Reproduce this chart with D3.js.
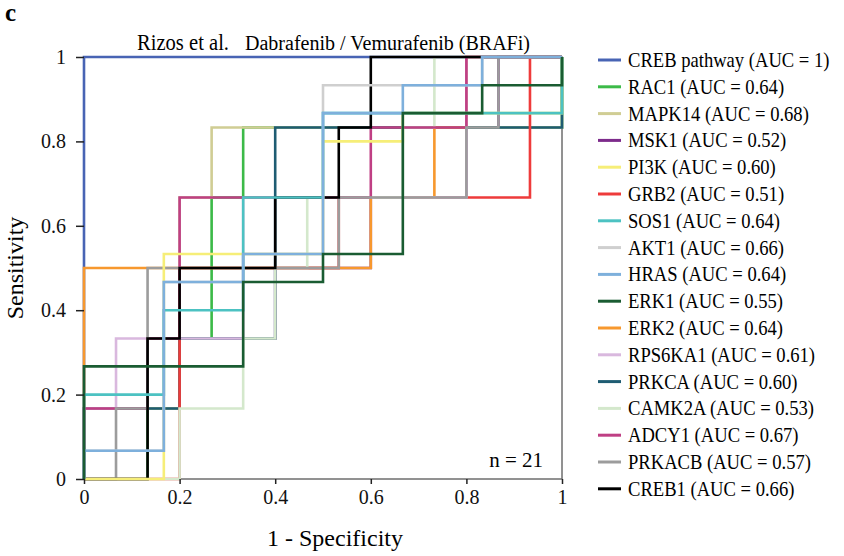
<!DOCTYPE html>
<html>
<head>
<meta charset="utf-8">
<script src="https://cdn.jsdelivr.net/npm/d3@7/dist/d3.min.js"></script>
<style>
    html, body { margin: 0; padding: 0; background: #fff; }
    svg { display: block; font-family: "Liberation Serif", "Times New Roman", serif; }
</style>
</head>
<body>
<div id="chart"></div>
<script>
    // legend order
    var seriesNames = ["CREB pathway", "RAC1", "MAPK14", "MSK1", "PI3K", "GRB2", "SOS1", "AKT1",
        "HRAS", "ERK1", "ERK2", "RPS6KA1", "PRKCA", "CAMK2A", "ADCY1", "PRKACB", "CREB1"];
    var seriesAuc = ["1", "0.64", "0.68", "0.52", "0.60", "0.51", "0.64", "0.66",
        "0.64", "0.55", "0.64", "0.61", "0.60", "0.53", "0.67", "0.57", "0.66"];
    var seriesColors = ["#4864b4", "#3cba48", "#d0cd94", "#7d2b8b", "#f6ee78", "#ee3b3b", "#4cc2c2", "#cfcfcf",
        "#7eb0dc", "#1a5c32", "#f7982e", "#d9b8de", "#1e5c72", "#d4e8cc", "#bf3f84", "#9c9c9c", "#000000"];

    // ROC vertices [1 - specificity, sensitivity]
    var rocCrebPathway = [[0, 0], [0, 1], [1, 1]];
    var rocRac1 = [[0, 0], [0.133, 0], [0.133, 0.167], [0.2, 0.167], [0.2, 0.333], [0.267, 0.333], [0.267, 0.667],
        [0.333, 0.667], [0.333, 0.833], [1, 0.833], [1, 1]];
    var rocMapk14 = [[0, 0], [0, 0.167], [0.2, 0.167], [0.2, 0.667], [0.267, 0.667], [0.267, 0.833], [1, 0.833], [1, 1]];
    var rocMsk1 = [[0, 0], [0, 0.167], [0.2, 0.167], [0.2, 0.333], [0.4, 0.333], [0.4, 0.5], [0.6, 0.5], [0.6, 0.667],
        [0.8, 0.667], [0.8, 0.833], [0.867, 0.833], [0.867, 1], [1, 1]];
    var rocPi3k = [[0, 0], [0.167, 0], [0.167, 0.533], [0.5, 0.533], [0.5, 0.8], [0.667, 0.8], [0.667, 0.867],
        [1, 0.867], [1, 1]];
    var rocGrb2 = [[0, 0], [0.2, 0], [0.2, 0.5], [0.533, 0.5], [0.533, 0.667], [0.933, 0.667], [0.933, 1], [1, 1]];
    var rocSos1 = [[0, 0], [0, 0.2], [0.167, 0.2], [0.167, 0.4], [0.333, 0.4], [0.333, 0.667], [0.5, 0.667],
        [0.5, 0.867], [1, 0.867], [1, 1]];
    var rocAkt1 = [[0, 0], [0, 0.067], [0.167, 0.067], [0.167, 0.467], [0.333, 0.467], [0.333, 0.533], [0.5, 0.533],
        [0.5, 0.933], [0.833, 0.933], [0.833, 1], [1, 1]];
    var rocHras = [[0, 0], [0, 0.067], [0.167, 0.067], [0.167, 0.467], [0.333, 0.467], [0.333, 0.533], [0.5, 0.533],
        [0.5, 0.867], [0.667, 0.867], [0.667, 0.933], [0.833, 0.933], [0.833, 1], [1, 1]];
    var rocErk1 = [[0, 0], [0, 0.267], [0.333, 0.267], [0.333, 0.467], [0.5, 0.467], [0.5, 0.533], [0.667, 0.533],
        [0.667, 0.867], [0.833, 0.867], [0.833, 0.933], [1, 0.933], [1, 1]];
    var rocErk2 = [[0, 0], [0, 0.5], [0.6, 0.5], [0.6, 0.667], [0.733, 0.667], [0.733, 0.833], [0.8, 0.833],
        [0.8, 1], [1, 1]];
    var rocRps6ka1 = [[0, 0], [0, 0.167], [0.067, 0.167], [0.067, 0.333], [0.333, 0.333], [0.333, 0.667],
        [0.8, 0.667], [0.8, 1], [1, 1]];
    var rocPrkca = [[0, 0], [0, 0.167], [0.2, 0.167], [0.2, 0.333], [0.4, 0.333], [0.4, 0.833], [1, 0.833], [1, 1]];
    var rocCamk2a = [[0, 0], [0.2, 0], [0.2, 0.167], [0.333, 0.167], [0.333, 0.333], [0.4, 0.333], [0.4, 0.5],
        [0.467, 0.5], [0.467, 0.667], [0.667, 0.667], [0.667, 0.833], [0.733, 0.833], [0.733, 1], [1, 1]];
    var rocAdcy1 = [[0, 0], [0, 0.167], [0.133, 0.167], [0.133, 0.333], [0.2, 0.333], [0.2, 0.667], [0.6, 0.667],
        [0.6, 0.833], [0.8, 0.833], [0.8, 1], [1, 1]];
    var rocPrkacb = [[0, 0], [0.067, 0], [0.067, 0.167], [0.133, 0.167], [0.133, 0.5], [0.533, 0.5], [0.533, 0.667],
        [0.8, 0.667], [0.8, 0.833], [0.867, 0.833], [0.867, 1], [1, 1]];
    var rocCreb1 = [[0, 0], [0.133, 0], [0.133, 0.333], [0.2, 0.333], [0.2, 0.5], [0.4, 0.5], [0.4, 0.667],
        [0.533, 0.667], [0.533, 0.833], [0.6, 0.833], [0.6, 1], [1, 1]];

    var rocCurves = [rocCrebPathway, rocRac1, rocMapk14, rocMsk1, rocPi3k, rocGrb2, rocSos1, rocAkt1,
        rocHras, rocErk1, rocErk2, rocRps6ka1, rocPrkca, rocCamk2a, rocAdcy1, rocPrkacb, rocCreb1];

    // stacking of the lines as seen in the figure (bottom first)
    var drawOrder = ["CREB pathway", "MSK1", "RAC1", "MAPK14", "PRKCA", "GRB2", "ERK2", "RPS6KA1", "CAMK2A",
        "ADCY1", "PRKACB", "CREB1", "PI3K", "AKT1", "SOS1", "HRAS", "ERK1"];

    var xTicks = [0, 0.2, 0.4, 0.6, 0.8, 1];
    var yTicks = [0, 0.2, 0.4, 0.6, 0.8, 1];
    var xTickLabels = ["0", "0.2", "0.4", "0.6", "0.8", "1"];
    var yTickLabels = ["0", "0.2", "0.4", "0.6", "0.8", "1"];

    (function () {
        "use strict";

        var width = 844,
            height = 556,
            pLeft = 84,
            pRight = 562,
            pTop = 57,
            pBottom = 479;

        var svg = d3.select('#chart').append('svg')
            .attr('width', width)
            .attr('height', height);

        var x = d3.scaleLinear().domain([0, 1]).range([pLeft, pRight]);
        var y = d3.scaleLinear().domain([0, 1]).range([pBottom, pTop]);

        // squeeze text a little, the figure uses a narrow Times
        function place(sel, px, py, k) {
            sel.attr('transform', 'translate(' + px + ',' + py + ') scale(' + k + ',1)');
            return sel;
        }

        // panel letter
        place(svg.append('text').text('c'), 5, 21, 1)
            .attr('font-size', 25)
            .attr('font-weight', 'bold');

        // title
        svg.append('text')
            .attr('x', 137).attr('y', 50)
            .attr('font-size', 23)
            .attr('textLength', 92)
            .attr('lengthAdjust', 'spacingAndGlyphs')
            .text('Rizos et al.');
        svg.append('text')
            .attr('x', 245).attr('y', 50)
            .attr('font-size', 20)
            .attr('textLength', 285)
            .attr('lengthAdjust', 'spacingAndGlyphs')
            .text('Dabrafenib / Vemurafenib (BRAFi)');

        // plot frame
        svg.append('rect')
            .attr('x', pLeft).attr('y', pTop)
            .attr('width', pRight - pLeft).attr('height', pBottom - pTop)
            .attr('fill', 'none')
            .attr('stroke', '#6e6e6e')
            .attr('stroke-width', 1.5);

        // curves
        var line = d3.line()
            .x(function (d) { return x(d[0]); })
            .y(function (d) { return y(d[1]); });

        var curveG = svg.append('g');
        drawOrder.forEach(function (name) {
            var i = seriesNames.indexOf(name);
            curveG.append('path')
                .attr('d', line(rocCurves[i]))
                .attr('fill', 'none')
                .attr('stroke', seriesColors[i])
                .attr('stroke-width', 2.6)
                .attr('stroke-linejoin', 'miter');
        });

        // axes
        var xAxis = d3.axisBottom(x)
            .tickValues(xTicks)
            .tickFormat(function (d, i) { return xTickLabels[i]; })
            .tickSize(5)
            .tickPadding(6);
        var yAxis = d3.axisLeft(y)
            .tickValues(yTicks)
            .tickFormat(function (d, i) { return yTickLabels[i]; })
            .tickSize(8)
            .tickPadding(10);

        var gx = svg.append('g')
            .attr('transform', 'translate(0,' + pBottom + ')')
            .call(xAxis);
        var gy = svg.append('g')
            .attr('transform', 'translate(' + pLeft + ',0)')
            .call(yAxis);

        [gx, gy].forEach(function (g) {
            g.select('.domain').remove();
            g.selectAll('line').attr('stroke', '#222').attr('stroke-width', 1.5);
            g.selectAll('text')
                .attr('font-family', '"Liberation Serif", "Times New Roman", serif')
                .attr('font-size', 20)
                .attr('fill', '#111');
        });

        // axis titles
        svg.append('text')
            .attr('x', 335).attr('y', 546)
            .attr('text-anchor', 'middle')
            .attr('font-size', 24)
            .text('1 - Specificity');
        svg.append('text')
            .attr('transform', 'translate(23,' + ((pTop + pBottom) / 2) + ') rotate(-90)')
            .attr('text-anchor', 'middle')
            .attr('font-size', 24)
            .text('Sensitivity');

        // sample size
        svg.append('text')
            .attr('x', 543).attr('y', 467)
            .attr('text-anchor', 'end')
            .attr('font-size', 21)
            .text('n = 21');

        // legend
        var legend = svg.append('g');
        seriesNames.forEach(function (name, i) {
            var ly = 60 + i * 26.8;
            legend.append('line')
                .attr('x1', 598).attr('x2', 621)
                .attr('y1', ly).attr('y2', ly)
                .attr('stroke', seriesColors[i])
                .attr('stroke-width', 3);
            place(legend.append('text'), 628, ly + 7, 0.93)
                .attr('font-size', 20)
                .text(name + ' (AUC = ' + seriesAuc[i] + ')');
        });
    }());
</script>
</body>
</html>
